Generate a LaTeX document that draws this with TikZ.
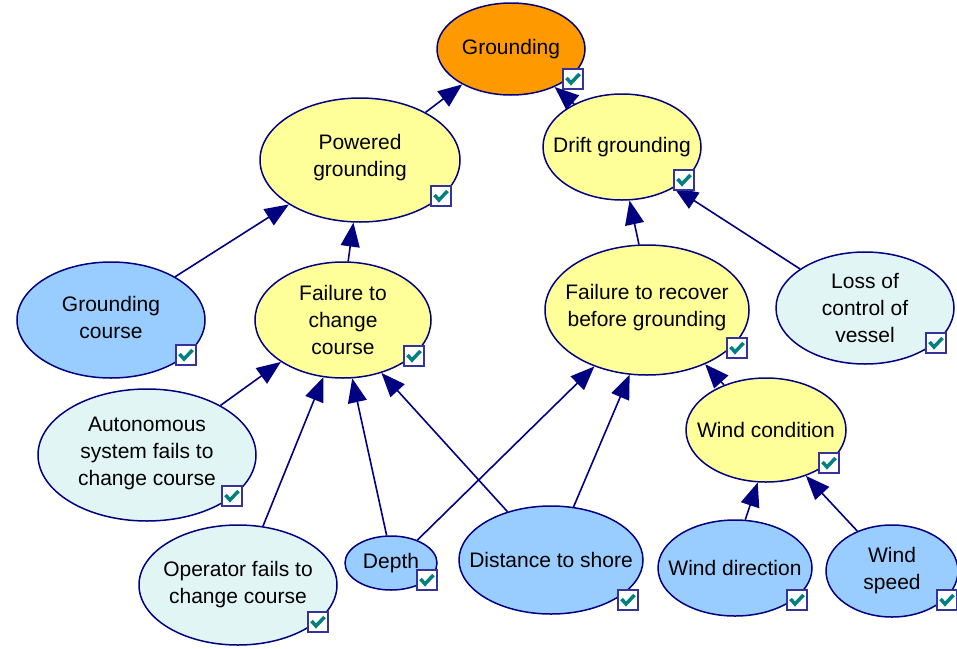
\documentclass[tikz,border=0pt]{standalone}
\usepackage{fontspec}
\setmainfont{Liberation Sans}
\usepackage{tikz}
\usetikzlibrary{arrows.meta, shapes.geometric}
\definecolor{goalcolor}{RGB}{255,153,0}
\definecolor{midcolor}{RGB}{255,255,153}
\definecolor{obscolor}{RGB}{153,204,255}
\definecolor{leafcolor}{RGB}{226,245,245}
\definecolor{edgecolor}{RGB}{0,0,128}
\definecolor{tickcolor}{RGB}{0,128,128}
\definecolor{boxcolor}{RGB}{51,51,153}

\begin{document}
\begin{tikzpicture}[x=1pt, y=-1pt,
    bn/.style={ellipse, draw=edgecolor, line width=1.5pt, inner sep=0pt},
    lbl/.style={font=\fontsize{21}{27}\selectfont, align=center, text=black},
    link/.style={-{Triangle[length=24pt, width=19pt]}, line width=1.6pt, draw=edgecolor},
    chkbox/.pic={
        \draw[boxcolor, fill=white, line width=1.2pt] (-10,-10) rectangle (10,10);
        \draw[tickcolor, line width=3.5pt] (-6.5,-1) -- (-2,4) -- (6.5,-5);
    }]
    \useasboundingbox (0,0) rectangle (957,648);

    % === TOP EVENT ===
    \node[bn, fill=goalcolor, minimum width=148pt, minimum height=92pt, label={[lbl]center:Grounding}] (grounding) at (511,49) {};

    % === INTERMEDIATE NODES ===
    \node[bn, fill=midcolor, minimum width=200pt, minimum height=124pt, label={[lbl, yshift=2pt]center:Powered\\grounding}] (powered) at (360,160) {};
    \node[bn, fill=midcolor, minimum width=158pt, minimum height=106pt, label={[lbl]center:Drift grounding}] (drift) at (622,147) {};
    \node[bn, fill=midcolor, minimum width=176pt, minimum height=116pt, label={[lbl]center:Failure to\\change\\course}] (failchange) at (343,320) {};
    \node[bn, fill=midcolor, minimum width=204pt, minimum height=130pt, label={[lbl, yshift=2pt]center:Failure to recover\\before grounding}] (failrecover) at (647,310) {};
    \node[bn, fill=midcolor, minimum width=160pt, minimum height=104pt, label={[lbl]center:Wind condition}] (windcond) at (766,430) {};

    % === OBSERVED NODES ===
    \node[bn, fill=obscolor, minimum width=188pt, minimum height=116pt, label={[lbl, yshift=3pt]center:Grounding\\course}] (grcourse) at (111,320) {};
    \node[bn, fill=obscolor, minimum width=92pt, minimum height=54pt, label={[lbl]center:Depth}] (depth) at (391,563) {};
    \node[bn, fill=obscolor, minimum width=184pt, minimum height=108pt, label={[lbl]center:Distance to shore}] (distance) at (551,560) {};
    \node[bn, fill=obscolor, minimum width=154pt, minimum height=96pt, label={[lbl]center:Wind direction}] (winddir) at (735,568) {};
    \node[bn, fill=obscolor, minimum width=132pt, minimum height=92pt, label={[lbl]center:Wind\\speed}] (windspeed) at (892,571) {};

    % === LEAF NODES ===
    \node[bn, fill=leafcolor, minimum width=178pt, minimum height=112pt, label={[lbl]center:Loss of\\control of\\vessel}] (lossctrl) at (865,308) {};
    \node[bn, fill=leafcolor, minimum width=218pt, minimum height=132pt, label={[lbl, yshift=2pt]center:Autonomous\\system fails to\\change course}] (autonomous) at (147,455) {};
    \node[bn, fill=leafcolor, minimum width=198pt, minimum height=120pt, label={[lbl]center:Operator fails to\\change course}] (operator) at (238,585) {};

    % === LINKS ===
    \draw[link] (powered.36) -- (grounding.216);
    \draw[link] (drift.138) -- (grounding.-41);
    \draw[link] (grcourse.34) -- (powered.212);
    \draw[link] (failchange.85) -- (powered.264);
    \draw[link] (failrecover.97) -- (drift.-82);
    \draw[link] (lossctrl.149) -- (drift.-38);
    \draw[link] (autonomous.34) -- (failchange.214);
    \draw[link] (operator.67) -- (failchange.251);
    \draw[link] (depth.99) -- (failchange.-81);
    \draw[link] (distance.132) -- (failchange.-54);
    \draw[link] (depth.41) -- (failrecover.-133);
    \draw[link] (distance.67) -- (failrecover.-105);
    \draw[link] (windcond.133) -- (failrecover.-43);
    \draw[link] (winddir.78) -- (windcond.-99);
    \draw[link] (windspeed.131) -- (windcond.-49);

    % === CHECK BOXES ===
    \pic at (573,79) {chkbox};
    \pic at (441,196) {chkbox};
    \pic at (684,180) {chkbox};
    \pic at (186,355) {chkbox};
    \pic at (414,356) {chkbox};
    \pic at (737,348) {chkbox};
    \pic at (936,343) {chkbox};
    \pic at (232,496) {chkbox};
    \pic at (829,463) {chkbox};
    \pic at (318,622) {chkbox};
    \pic at (427,580) {chkbox};
    \pic at (628,600) {chkbox};
    \pic at (797,600) {chkbox};
    \pic at (947,600) {chkbox};

\end{tikzpicture}
\end{document}
